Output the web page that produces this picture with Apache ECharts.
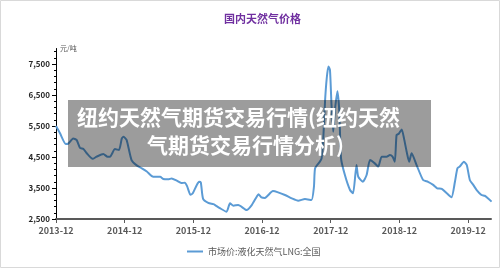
<!DOCTYPE html>
<html><head><meta charset="utf-8">
<script src="https://cdn.jsdelivr.net/npm/echarts@6/dist/echarts.min.js"></script>
<style>html,body{margin:0;padding:0;background:#fff}#c{width:500px;height:268px}</style>
</head><body><div id="c"></div>
<script>
const titleText = '国内天然气价格';
const seriesName = '市场价:液化天然气LNG:全国';
const unitName = '元/吨';
const overlayLine1 = '纽约天然气期货交易行情(纽约天然';
const overlayLine2 = '气期货交易行情分析)';
const yTickLabels = [2500, 3500, 4500, 5500, 6500, 7500];
const xTickLabels = ['2013-12','2014-12','2015-12','2016-12','2017-12','2018-12','2019-12'];
const dates = [
'2013-12-01','2013-12-22','2014-01-22','2014-02-05','2014-03-01','2014-03-19','2014-04-07','2014-04-25','2014-05-12','2014-06-13',
'2014-07-04','2014-08-09','2014-09-01','2014-09-14','2014-10-10','2014-11-01','2014-11-16','2014-11-25','2014-12-11','2015-01-07',
'2015-02-04','2015-03-01','2015-03-27','2015-05-01','2015-06-07','2015-06-23','2015-07-19','2015-08-07','2015-09-04','2015-09-28',
'2015-10-16','2015-10-28','2015-11-16','2015-11-28','2015-12-19','2016-01-01','2016-01-10','2016-01-22','2016-02-19','2016-03-16',
'2016-03-25','2016-04-20','2016-05-25','2016-06-13','2016-07-01','2016-07-26','2016-09-10','2016-10-07','2016-11-03','2016-11-12',
'2016-11-28','2016-12-16','2017-01-28','2017-02-25','2017-04-01','2017-05-07','2017-06-10','2017-07-16','2017-08-20','2017-09-03',
'2017-09-09','2017-10-04','2017-10-13','2017-10-22','2017-11-01','2017-11-10','2017-11-19','2017-11-27','2017-12-05','2017-12-14',
'2017-12-22','2018-01-06','2018-01-16','2018-01-25','2018-02-16','2018-03-12','2018-03-28','2018-04-16','2018-04-25','2018-05-19',
'2018-06-09','2018-06-27','2018-07-22','2018-08-10','2018-08-28','2018-09-24','2018-10-11','2018-10-25','2018-11-07','2018-11-16',
'2018-11-28','2018-12-13','2018-12-25','2019-01-09','2019-01-22','2019-02-05','2019-03-01','2019-04-05','2019-05-01','2019-05-28',
'2019-06-19','2019-07-13','2019-08-09','2019-09-04','2019-09-22','2019-10-05','2019-10-17','2019-11-09','2019-11-24','2019-12-10',
'2019-12-28','2020-01-16','2020-02-11','2020-02-28','2020-03-16','2020-04-04'
];
const prices = [
5500,5265,4920,4930,5100,5050,4790,4760,4620,4440,
4510,4595,4510,4510,4755,4725,5100,5150,5050,4400,
4230,4135,4030,3860,3860,3790,3780,3810,3735,3660,
3670,3560,3280,3330,3600,3700,3680,3150,3020,2980,
2950,2850,2735,3005,2930,2950,2790,2950,3220,3300,
3200,3180,3400,3360,3275,3165,3090,3145,3110,3540,
4135,4350,4455,5100,6285,7040,7420,7305,6180,5315,
5960,6620,5960,4455,3900,3435,3330,4240,3865,3700,
3920,4400,4295,4190,4510,4510,4565,4510,4350,5210,
5250,5390,5100,4670,4350,4620,4240,3760,3700,3600,
3490,3470,3330,3200,3700,4135,4190,4350,4240,3760,
3600,3435,3275,3250,3165,3060
];

function monthIndex(s){
  const p = s.split('-').map(Number);
  return (p[0]-2013)*12 + (p[1]-12) + (p[2]-1)/30;
}
const data = dates.map((d,i)=>[monthIndex(d), prices[i]]);
const minorTicks = [];
for (let v = 2500; v <= 8000; v += 200) minorTicks.push(v);

const FONT = '"Noto Sans CJK SC", "Noto Sans", sans-serif';
const chart = echarts.init(document.getElementById('c'), null, {renderer:'canvas'});
chart.setOption({
  animation:false,
  title:{text:titleText, left:219, top:8, textStyle:{color:'#7030A0', fontSize:11, fontWeight:'bold', fontFamily:FONT}},
  legend:{data:[seriesName], left:182, top:242, itemWidth:16, itemHeight:8, icon:'path://M0,3L16,3L16,5L0,5Z',
    textStyle:{color:'#595959', fontSize:9, fontFamily:FONT}},
  grid:{left:56, top:48.5, width:435, height:170.5, containLabel:false},
  xAxis:{type:'value', min:0, max:76, interval:12,
    axisLine:{lineStyle:{color:'#595959', width:2}},
    axisTick:{show:true, length:4, inside:false, lineStyle:{color:'#595959'}},
    splitLine:{show:false},
    axisLabel:{margin:7, color:'#595959', fontSize:9, fontWeight:'bold', fontFamily:FONT,
      formatter:function(v){ const k = Math.round(v/12); return xTickLabels[k] || ''; }}
  },
  yAxis:[{type:'value', min:2500, max:8000, name:unitName, nameLocation:'end', nameGap:0,
    nameTextStyle:{align:'left', verticalAlign:'middle', padding:[0,0,0,4], color:'#595959', fontSize:7, fontFamily:FONT},
    axisLine:{show:true, lineStyle:{color:'#000', width:1}},
    axisTick:{show:true, length:4, customValues:yTickLabels, lineStyle:{color:'#000'}},
    splitLine:{show:false},
    axisLabel:{customValues:yTickLabels, margin:6, color:'#262626', fontSize:8, fontWeight:'bold', fontFamily:FONT,
      formatter:function(v){ return v.toLocaleString('en-US'); }}
  },{type:'value', min:2500, max:8000, position:'left',
    axisLine:{show:false}, splitLine:{show:false}, axisLabel:{show:false},
    axisTick:{show:true, length:2, customValues:minorTicks, lineStyle:{color:'#000'}}
  }],
  series:[{name:seriesName, type:'line', data:data, symbol:'none', smooth:0.2,
    lineStyle:{color:'#5B9BD5', width:2}, itemStyle:{color:'#5B9BD5'}, z:2}],
  graphic:[
    {type:'rect', z:100, shape:{x:0.5,y:0.5,width:499,height:267}, style:{fill:'none', stroke:'#d9d9d9', lineWidth:1}},
    {type:'rect', z:100, shape:{x:68,y:100,width:363,height:67}, style:{fill:'rgba(0,0,0,0.39)'}},
    {type:'text', z:101, x:77, y:117, style:{text:overlayLine1, fill:'#fff', font:'bold 21px "Noto Sans CJK SC"', verticalAlign:'middle', align:'left'}},
    {type:'text', z:101, x:147, y:145, style:{text:overlayLine2, fill:'#fff', font:'bold 21px "Noto Sans CJK SC"', verticalAlign:'middle', align:'left'}}
  ]
});
</script></body></html>
